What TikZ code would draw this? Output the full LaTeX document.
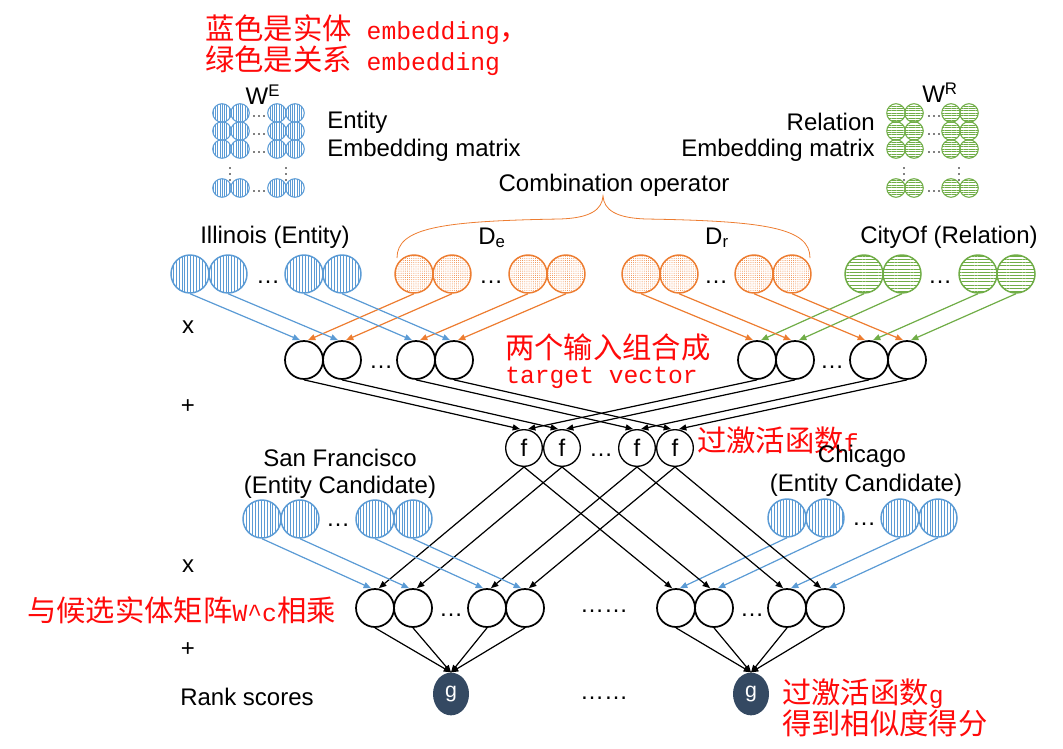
\documentclass[tikz,border=0pt]{standalone}
\usepackage{fontspec}
\setmainfont{Liberation Sans}
\newfontfamily\cjk{Noto Sans CJK SC}
\newfontfamily\monof{Liberation Mono}
\usetikzlibrary{arrows.meta,patterns.meta,shapes.geometric}
\definecolor{bluec}{RGB}{91,155,213}
\definecolor{orangec}{RGB}{237,125,49}
\definecolor{greenc}{RGB}{112,173,71}
\definecolor{navy}{RGB}{52,73,98}
\definecolor{redc}{RGB}{255,10,10}
\newcommand{\zh}[1]{{\fontsize{22}{24}\cjk #1}}
\newcommand{\lat}[1]{{\fontsize{18.5}{24}\monof #1}}
\tikzset{
  lbl/.style={inner sep=0pt, font={\fontsize{18}{21}\selectfont}},
  rtx/.style={inner sep=0pt, text=redc, anchor=west},
  ent/.style={circle, draw=bluec, line width=1.1pt, minimum size=28.5pt, inner sep=0pt,
    pattern={Lines[angle=90,distance=2.2pt,line width=0.5pt]}, pattern color=bluec},
  rel/.style={circle, draw=greenc, line width=1.1pt, minimum size=28.5pt, inner sep=0pt,
    pattern={Lines[angle=0,distance=2.4pt,line width=0.5pt]}, pattern color=greenc},
  cmb/.style={circle, draw=orangec, line width=1.1pt, minimum size=28.5pt, inner sep=0pt,
    pattern={Dots[distance=1.6pt,radius=0.35pt]}, pattern color=orangec},
  sent/.style={ent, minimum size=13.9pt, line width=0.8pt,
    pattern={Lines[angle=90,distance=1.7pt,line width=0.35pt]}},
  srel/.style={rel, minimum size=13.9pt, line width=0.8pt,
    pattern={Lines[angle=0,distance=1.8pt,line width=0.35pt]}},
  hid/.style={circle, draw=black, line width=1.3pt, minimum size=28.5pt, inner sep=0pt},
  fnode/.style={hid, minimum size=27.5pt, line width=1pt, font={\fontsize{18}{21}\selectfont}},
  gnode/.style={ellipse, fill=navy, minimum width=27pt, minimum height=32pt, inner sep=0pt,
    text=white, font={\fontsize{16}{18}\selectfont}},
  dts/.style={inner sep=0pt, font={\fontsize{18}{21}\selectfont}},
  arr/.style={-{Triangle[length=5.5pt,width=4.5pt]}, line width=0.9pt},
  ab/.style={arr, draw=bluec, fill=bluec},
  ao/.style={arr, draw=orangec, fill=orangec},
  ag/.style={arr, draw=greenc, fill=greenc},
  ak/.style={arr, draw=black, fill=black},
}
\begin{document}
\begin{tikzpicture}[x=0.75pt,y=-0.75pt]
\useasboundingbox (0,0) rectangle (1063,749);

% red annotations
\node[rtx] (t1) at (205,30) {\zh{蓝色是实体}\lat{\ embedding}\zh{，}};
\node[rtx] (t2) at (205,61) {\zh{绿色是关系}\lat{\ embedding}};
\node[rtx] (t3) at (505,347) {\zh{两个输入组合成}};
\node[rtx] (t4) at (505,378) {\lat{target vector}};
\node[rtx] (t5) at (697,440) {\zh{过激活函数}\lat{f}};
\node[rtx] (t6) at (27,610) {\zh{与候选实体矩阵}\lat{W\textasciicircum c}\zh{相乘}};
\node[rtx] (t7) at (782,694) {\zh{过激活函数}\lat{g}};
\node[rtx] (t8) at (782,723) {\zh{得到相似度得分}};

% embedding matrices
\node[lbl] (we) at (263,95) {W\textsuperscript{E}};
\node[lbl] (wr) at (940,93) {W\textsuperscript{R}};
\node[lbl, anchor=west] (me1) at (327,122) {Entity};
\node[lbl, anchor=west] (me2) at (327,150) {Embedding matrix};
\node[lbl, anchor=east] (mr1) at (875,122) {Relation};
\node[lbl, anchor=east] (mr2) at (875,150) {Embedding matrix};
\foreach \yy [count=\r] in {113,131,149,188}{
  \foreach \xx [count=\c] in {222,240,277,295}
    \node[sent] (mE\r\c) at (\xx,\yy) {};
  \foreach \xx [count=\c] in {896,914,951,969}
    \node[srel] (mR\r\c) at (\xx,\yy) {};
  \foreach \xx in {254,259,264,929,934,939}
    \fill (\xx,\yy+3) circle (0.9);
}
\foreach \xx in {230,286,904,959}
  \foreach \yy in {168,174,180}
    \fill (\xx,\yy) circle (0.9);

\node[lbl] (comb) at (614,185) {Combination operator};
\draw[orangec, line width=0.6pt] (397,258) .. controls (397,228) and (440,221) .. (560,219)
  .. controls (590,218) and (602,210) .. (603,196)
  .. controls (604,210) and (616,218) .. (646,219)
  .. controls (766,221) and (810,228) .. (810,258);

% row labels
\node[lbl] (ill) at (275,237) {Illinois (Entity)};
\node[lbl] (de) at (492,238) {D\textsubscript{e}};
\node[lbl] (dr) at (717,238) {D\textsubscript{r}};
\node[lbl] (city) at (949,237) {CityOf (Relation)};
\node[lbl] (x1) at (188,327) {x};
\node[lbl] (p1) at (188,407) {+};
\node[lbl] (x2) at (188,566) {x};
\node[lbl] (p2) at (188,650) {+};
\node[lbl, anchor=west] (rank) at (180,697) {Rank scores};
\node[lbl] (sf1) at (340,458) {San Francisco};
\node[lbl] (sf2) at (340,487) {(Entity Candidate)};
\node[lbl] (ch1) at (862,456) {Chicago};
\node[lbl] (ch2) at (866,485) {(Entity Candidate)};

% input embeddings
\foreach \xx [count=\i] in {190,228,304,342} \node[ent] (e\i) at (\xx,274) {};
\foreach \xx [count=\i] in {414,452,528,566} \node[cmb] (d\i) at (\xx,274) {};
\foreach \xx [count=\i] in {641,679,754,792} \node[cmb] (r\i) at (\xx,274) {};
\foreach \xx [count=\i] in {864,902,978,1016} \node[rel] (c\i) at (\xx,274) {};
\node[dts] (dd1) at (268,282) {…};
\node[dts] (dd2) at (491,282) {…};
\node[dts] (dd3) at (716,282) {…};
\node[dts] (dd4) at (940,282) {…};

% target vectors
\foreach \xx [count=\i] in {304,342,416,454} \node[hid] (tl\i) at (\xx,360) {};
\foreach \xx [count=\i] in {757,795,869,907} \node[hid] (tr\i) at (\xx,360) {};
\node[dts] (dd5) at (381,367) {…};
\node[dts] (dd6) at (832,367) {…};

% f nodes
\foreach \xx [count=\i] in {524,562,637,675} \node[fnode] (f\i) at (\xx,448) {f};
\node[dts] (dd7) at (601,455) {…};

% candidates
\foreach \xx [count=\i] in {262,300,375,413} \node[ent] (s\i) at (\xx,519) {};
\foreach \xx [count=\i] in {787,825,900,938} \node[ent] (h\i) at (\xx,518) {};
\node[dts] (dd8) at (338,525) {…};
\node[dts] (dd9) at (864,524) {…};

% products
\foreach \xx [count=\i] in {375,413,487,525} \node[hid] (ps\i) at (\xx,608) {};
\foreach \xx [count=\i] in {676,714,787,825} \node[hid] (ph\i) at (\xx,608) {};
\node[dts] (dd10) at (451,615) {…};
\node[dts] (dd11) at (752,615) {…};
\node[dts] (dd12) at (604,611) {……};

% g nodes
\node[gnode] (g1) at (451,694) {g};
\node[gnode] (g2) at (751,694) {g};
\node[dts] (dd13) at (604,698) {……};

% connectors
\foreach \i in {1,...,4}{
  \draw[ab] (e\i.south) -- ([xshift=-3pt]tl\i.north);
  \draw[ao] (d\i.south) -- ([xshift=3pt]tl\i.north);
  \draw[ao] (r\i.south) -- ([xshift=-3pt]tr\i.north);
  \draw[ag] (c\i.south) -- ([xshift=3pt]tr\i.north);
  \draw[ak] (tl\i.south) -- ([xshift=-3pt]f\i.north);
  \draw[ak] (tr\i.south) -- ([xshift=3pt]f\i.north);
  \draw[ak] (f\i.south) -- ([xshift=3pt]ps\i.north);
  \draw[ak] (f\i.south) -- ([xshift=-3pt]ph\i.north);
  \draw[ab] (s\i.south) -- ([xshift=-3pt]ps\i.north);
  \draw[ab] (h\i.south) -- ([xshift=3pt]ph\i.north);
  \draw[ak] (ps\i.south) -- (g1.north);
  \draw[ak] (ph\i.south) -- (g2.north);
}
\end{tikzpicture}
\end{document}
